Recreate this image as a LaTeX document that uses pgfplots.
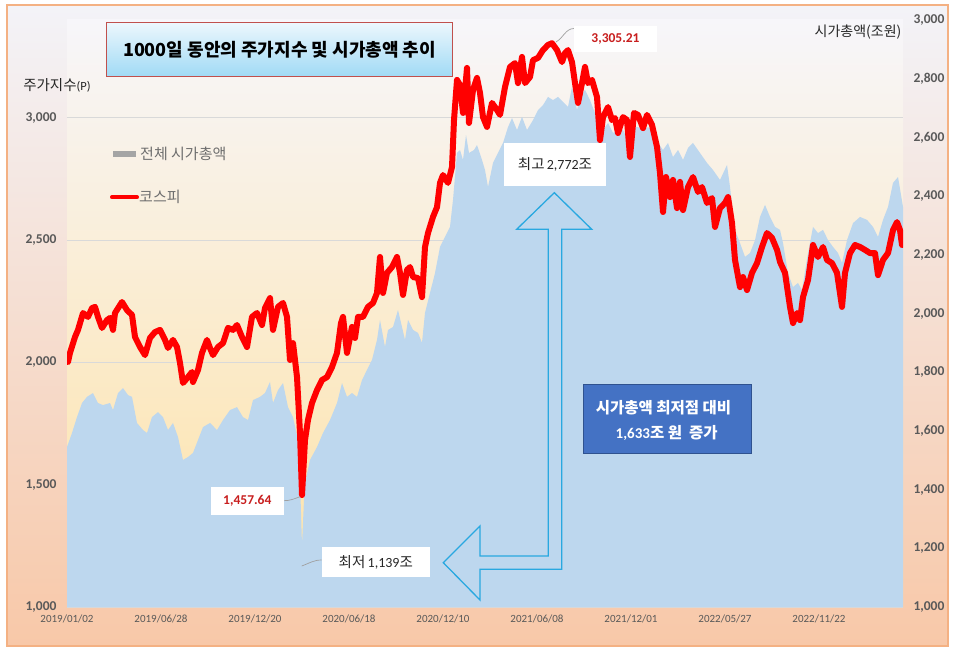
\documentclass[border=0pt]{standalone}
\usepackage{fontspec}
\usepackage{pgfplots}
\pgfplotsset{compat=1.18}
\setmainfont{Carlito}
\newfontfamily\kr{Noto Sans CJK KR}
\definecolor{capblue}{RGB}{189,215,238}
\definecolor{kred}{RGB}{255,0,0}
\definecolor{tickgray}{RGB}{89,89,89}
\definecolor{gridgray}{RGB}{217,217,217}
\definecolor{arrowcyan}{RGB}{41,168,224}
\definecolor{boxblue}{RGB}{68,114,196}
\definecolor{boxbluedark}{RGB}{47,82,143}
\definecolor{framepeach}{RGB}{244,177,131}
\definecolor{labred}{RGB}{200,30,30}
\definecolor{titleborder}{RGB}{192,80,77}
\definecolor{outtop}{RGB}{243,243,248}
\definecolor{outmid}{RGB}{246,236,236}
\definecolor{outbot}{RGB}{248,200,168}
\definecolor{pltop}{RGB}{247,246,250}
\definecolor{plmid}{RGB}{252,238,218}
\definecolor{plbot}{RGB}{254,226,165}
\definecolor{ttltop}{RGB}{236,247,253}
\definecolor{ttlbot}{RGB}{160,218,245}
\definecolor{darktext}{RGB}{38,38,38}
\definecolor{leggray}{RGB}{165,165,165}
\definecolor{legtext}{RGB}{110,110,110}
\definecolor{leader}{RGB}{160,160,160}
\begin{document}
\begin{tikzpicture}[x=1pt,y=1pt]
\path[fill=white] (0,0) rectangle (960,654);
\shade[top color=outtop, middle color=outmid, bottom color=outbot] (7,8) rectangle (948,649);
\draw[framepeach, line width=2pt] (7,8) rectangle (948,649);
\shade[top color=pltop, middle color=plmid, bottom color=plbot] (67,47) rectangle (903,634);

% axis 1: left axis, grid and x labels
\begin{axis}[at={(67pt,47pt)}, anchor=south west, scale only axis,
  width=836pt, height=587pt,
  xmin=0, xmax=836, ymin=1000, ymax=3400,
  axis line style={draw=none}, major tick length=0pt,
  ytick={1000,1500,2000,2500,3000},
  yticklabels={{1,000},{1,500},{2,000},{2,500},{3,000}},
  ymajorgrids, grid style={gridgray, line width=0.8pt},
  xtick={0,94,188,282,376,470,564,658,752},
  xticklabels={2019/01/02,2019/06/28,2019/12/20,2020/06/18,2020/12/10,2021/06/08,2021/12/01,2022/05/27,2022/11/22},
  yticklabel style={font=\fontsize{13.5}{15}\selectfont\bfseries, text=tickgray, anchor=east, xshift=-7pt},
  xticklabel style={font=\fontsize{11}{13}\selectfont, text=tickgray, anchor=north, yshift=-4pt},
]
\end{axis}

% axis 2: right axis, market cap area
\begin{axis}[at={(67pt,47pt)}, anchor=south west, scale only axis,
  width=836pt, height=587pt,
  xmin=0, xmax=836, ymin=1000, ymax=3000,
  axis line style={draw=none}, major tick length=0pt,
  xtick=\empty,
  ytick={1000,1200,1400,1600,1800,2000,2200,2400,2600,2800,3000},
  yticklabels={{1,000},{1,200},{1,400},{1,600},{1,800},{2,000},{2,200},{2,400},{2,600},{2,800},{3,000}},
  yticklabel pos=right,
  yticklabel style={font=\fontsize{13.5}{15}\selectfont\bfseries, text=tickgray, anchor=west, xshift=7pt},
]
\addplot[fill=capblue, draw=none] table {
x y
0 1545
5 1593
10 1647
15 1695
20 1716
26 1729
31 1695
36 1688
43 1695
46 1671
51 1729
56 1746
61 1722
65 1716
70 1627
76 1603
80 1593
85 1647
91 1664
96 1647
101 1603
106 1627
111 1579
116 1501
121 1511
126 1525
131 1569
136 1613
143 1627
150 1603
156 1637
163 1671
170 1681
176 1647
181 1637
186 1705
193 1716
198 1729
203 1767
206 1695
211 1739
216 1763
221 1681
226 1647
231 1569
233 1433
235 1211
237 1365
238 1422
243 1501
250 1545
256 1593
263 1637
270 1695
275 1763
280 1716
285 1729
290 1716
295 1773
300 1808
305 1842
310 1910
313 1978
318 1886
321 1944
326 1954
331 2012
335 1954
338 1910
341 1978
346 1944
351 1934
355 1900
358 2002
363 2070
368 2138
373 2227
378 2261
383 2295
386 2387
390 2547
393 2557
396 2523
399 2608
402 2547
407 2557
410 2574
415 2523
418 2489
421 2431
426 2513
431 2547
436 2581
441 2635
445 2666
450 2625
455 2670
460 2625
466 2659
471 2693
476 2710
481 2738
486 2727
491 2738
496 2721
501 2704
505 2772
510 2693
513 2738
518 2762
523 2727
528 2683
531 2635
536 2625
541 2649
546 2615
551 2625
556 2625
561 2591
566 2635
571 2635
576 2625
581 2635
586 2625
591 2581
596 2557
601 2581
606 2533
611 2557
616 2523
621 2564
626 2581
633 2547
640 2513
646 2489
653 2455
660 2506
663 2431
668 2285
673 2240
678 2193
683 2206
688 2250
693 2329
698 2370
703 2329
708 2295
713 2285
716 2240
721 2138
726 2090
731 2104
735 2080
740 2186
746 2295
751 2274
756 2285
761 2250
766 2227
771 2206
775 2172
780 2250
786 2308
793 2329
800 2319
806 2295
811 2261
816 2319
821 2363
826 2445
831 2465
836 2363
} \closedcycle;
\end{axis}

% axis 3: KOSPI line on left scale
\begin{axis}[at={(67pt,47pt)}, anchor=south west, scale only axis,
  width=836pt, height=587pt,
  xmin=0, xmax=836, ymin=1000, ymax=3400, hide axis]
\addplot[kred, line width=6pt, line join=round, line cap=round] table {
x y
1 2002
3 2039
8 2104
11 2133
16 2202
21 2186
25 2222
28 2227
31 2186
35 2141
40 2173
43 2182
46 2133
48 2202
55 2247
60 2214
65 2194
68 2104
73 2063
78 2030
83 2100
88 2124
93 2133
98 2092
101 2059
106 2092
110 2063
113 1998
116 1916
121 1940
125 1961
126 1920
131 1969
135 2039
140 2092
143 2059
146 2030
151 2063
156 2079
161 2141
166 2133
170 2153
175 2104
180 2063
185 2186
190 2202
195 2153
198 2222
203 2263
206 2133
211 2227
216 2243
220 2186
223 2010
226 2079
230 1940
233 1711
235 1457.64
238 1683
241 1765
245 1834
250 1887
255 1928
260 1940
265 1981
270 2039
274 2161
276 2186
280 2039
285 2145
288 2100
291 2186
296 2186
301 2227
306 2243
310 2284
313 2431
316 2284
320 2366
325 2390
330 2431
333 2366
336 2276
340 2378
343 2390
346 2349
351 2345
355 2267
358 2472
361 2529
366 2595
370 2635
373 2734
376 2766
381 2734
385 2799
387 2991
390 3155
393 3134
396 3020
400 3204
402 2979
406 3114
410 3163
413 3102
416 3003
420 2963
425 3061
430 3032
433 3012
438 3126
443 3208
448 3224
451 3142
455 3249
458 3142
463 3167
466 3236
471 3245
476 3277
481 3298
485 3305.21
490 3277
495 3228
498 3265
501 3277
505 3228
508 3142
511 3061
515 3142
518 3208
521 3142
525 3155
530 3085
533 2909
536 3003
541 3044
545 2991
548 2999
551 2938
556 3003
560 2991
563 2840
567 3020
571 3012
576 2958
580 3012
585 2971
590 2881
593 2774
596 2615
599 2758
603 2676
606 2746
610 2631
613 2738
616 2623
621 2717
626 2758
631 2697
635 2717
640 2652
645 2672
648 2554
653 2631
658 2652
661 2676
665 2570
668 2419
673 2308
676 2349
680 2296
685 2366
690 2406
695 2472
700 2529
705 2509
710 2460
713 2411
718 2366
723 2227
726 2161
730 2202
733 2173
736 2267
741 2337
746 2480
751 2431
756 2472
760 2419
765 2406
770 2366
775 2227
778 2366
783 2447
788 2480
793 2472
798 2460
803 2447
808 2447
811 2357
816 2419
821 2447
826 2541
830 2574
833 2541
835 2480
};
\end{axis}

% title
\shade[top color=ttltop, bottom color=ttlbot] (106.7,577.3) rectangle (452.3,631.3);
\draw[titleborder, line width=0.9pt] (106.7,577.3) rectangle (452.3,631.3);
\node[font=\kr\bfseries\fontsize{18}{20}\selectfont, text=black] at (279.5,604.3) {1000일 동안의 주가지수 및 시가총액 추이};

% axis titles
\node[text=darktext, inner sep=0pt] at (57,569) {{\kr\fontsize{14.5}{16}\selectfont 주가지수}{\fontsize{12.5}{14}\selectfont(P)}};
\node[text=darktext, inner sep=0pt, font=\kr\fontsize{14}{16}\selectfont] at (858,622) {시가총액(조원)};

% legend
\fill[leggray] (112.7,496.7) rectangle (136,503.3);
\node[anchor=west, inner sep=0pt, text=legtext, font=\kr\fontsize{15}{17}\selectfont] at (140,500) {전체 시가총액};
\draw[kred, line width=4pt, line cap=round] (112,456.7) -- (137,456.7);
\node[anchor=west, inner sep=0pt, text=legtext, font=\kr\fontsize{15}{17}\selectfont] at (139,456.7) {코스피};

% arrow
\draw[arrowcyan, line width=1.3pt, line join=miter] (554.3,461.3) -- (591.7,424.7) -- (561.7,424.7) -- (561.7,84.7) -- (480,84.7) -- (480,54) -- (443.3,91.3) -- (480,128) -- (480,98) -- (548.3,98) -- (548.3,424.7) -- (516.7,424.7) -- cycle;

% annotation boxes
\draw[leader, line width=0.7pt] (574.3,625.5) to[out=180,in=30] (556,612);
\fill[white] (574.3,602.3) rectangle (656.7,628);
\node[text=labred, font=\bfseries\fontsize{13.5}{15}\selectfont] at (615.5,615.2) {3,305.21};

\fill[white] (504,468) rectangle (606,511);
\node[text=darktext] at (555,489.5) {{\kr\fontsize{14.5}{16}\selectfont 최고} {\fontsize{14}{16}\selectfont 2,772}{\kr\fontsize{14.5}{16}\selectfont 조}};

\draw[leader, line width=0.7pt] (283.7,153.3) to[out=0,in=200] (300,157.3);
\fill[white] (211,139) rectangle (283.7,167);
\node[text=labred, font=\bfseries\fontsize{13.5}{15}\selectfont] at (247.3,153) {1,457.64};

\draw[leader, line width=0.7pt] (321.7,94) to[out=180,in=20] (301.7,88);
\fill[white] (321.7,77) rectangle (430,107);
\node[text=darktext] at (375.8,92) {{\kr\fontsize{14.5}{16}\selectfont 최저} {\fontsize{14}{16}\selectfont 1,139}{\kr\fontsize{14.5}{16}\selectfont 조}};

\draw[fill=boxblue, draw=boxbluedark, line width=0.8pt] (583.3,200.7) rectangle (751,269.7);
\node[text=white, font=\kr\bfseries\fontsize{15.5}{17}\selectfont] at (663.5,246.7) {시가총액 최저점 대비};
\node[text=white] at (666.7,221.3) {{\bfseries\fontsize{15}{17}\selectfont 1,633}{\kr\bfseries\fontsize{15.5}{17}\selectfont 조 원\ \ 증가}};
\end{tikzpicture}
\end{document}
